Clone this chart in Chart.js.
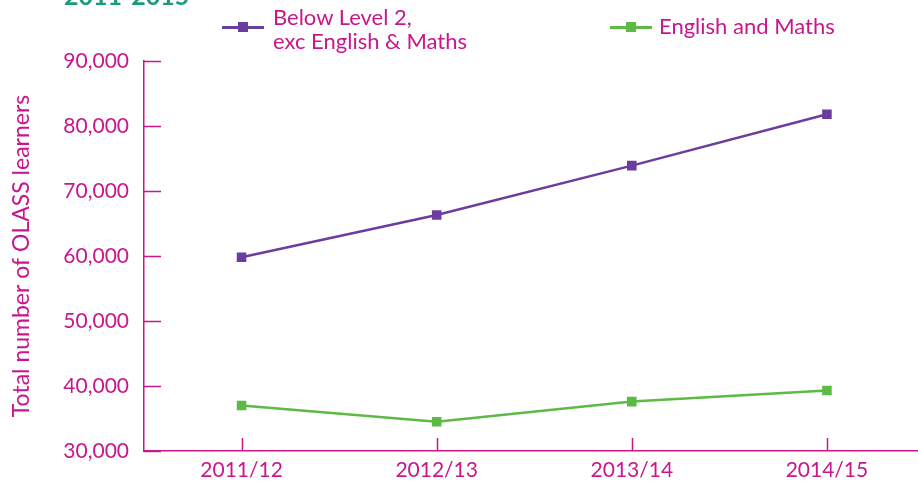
<!DOCTYPE html>
<html>
<head>
<meta charset="utf-8">
<title>OLASS learners 2011-2015</title>
<script src="https://cdn.jsdelivr.net/npm/chart.js@4.4.1/dist/chart.umd.min.js"></script>
<style>
  html, body { margin: 0; padding: 0; background: #fff; overflow: hidden; }
  #wrap { position: relative; width: 932px; height: 488px; }
  #title { position: absolute; left: 64px; top: -20px; font: bold 25px Lato, sans-serif; color: #1a9b7c; }
  .leg { position: absolute; font: 22px Lato, sans-serif; color: #c8178c; line-height: 24px; }
  .leg .mk { position: absolute; height: 3px; width: 42px; }
  .leg .mk i { position: absolute; left: 16px; top: -4px; width: 10px; height: 10px; }
</style>
</head>
<body>
<div id="wrap">
  <canvas id="chart" width="932" height="488"></canvas>
  <div id="title">2011-2015</div>
  <div class="leg" style="left:222px;top:5px;">
    <span class="mk" style="top:21px;background:#6b3d9e"><i style="background:#6b3d9e"></i></span>
    <div style="margin-left:51px">Below Level 2,<br>exc English &amp; Maths</div>
  </div>
  <div class="leg" style="left:610px;top:14px;">
    <span class="mk" style="top:12px;background:#5cba45"><i style="background:#5cba45"></i></span>
    <div style="margin-left:49px">English and Maths</div>
  </div>
</div>
<script>
  var years = ['2011/12', '2012/13', '2013/14', '2014/15'];
  var belowLevel2 = [59800, 66300, 73900, 81800];
  var englishMaths = [37000, 34500, 37600, 39300];
  var yTicks = [30000, 40000, 50000, 60000, 70000, 80000, 90000];

  var pink = '#c8178c';

  // short tick marks pointing into the plot, like the original
  var innerTicks = {
    id: 'innerTicks',
    afterDraw: function (chart) {
      var ctx = chart.ctx, area = chart.chartArea;
      var x = chart.scales.x, y = chart.scales.y;
      ctx.save();
      ctx.strokeStyle = pink;
      ctx.lineWidth = 1.5;
      ctx.beginPath();
      yTicks.forEach(function (v) {
        var py = Math.round(y.getPixelForValue(v)) + 0.5;
        ctx.moveTo(area.left, py);
        ctx.lineTo(area.left + 17, py);
      });
      years.forEach(function (c, i) {
        var px = Math.round(x.getPixelForValue(i)) + 0.5;
        ctx.moveTo(px, area.bottom);
        ctx.lineTo(px, area.bottom - 13);
      });
      ctx.stroke();
      ctx.restore();
    }
  };

  new Chart(document.getElementById('chart'), {
    type: 'line',
    data: {
      labels: years,
      datasets: [
        {
          label: 'Below Level 2, exc English & Maths',
          data: belowLevel2,
          borderColor: '#6b3d9e',
          backgroundColor: '#6b3d9e',
          borderWidth: 2.5,
          pointStyle: 'rect',
          pointRadius: 5,
          tension: 0
        },
        {
          label: 'English and Maths',
          data: englishMaths,
          borderColor: '#5cba45',
          backgroundColor: '#5cba45',
          borderWidth: 2.5,
          pointStyle: 'rect',
          pointRadius: 5,
          tension: 0
        }
      ]
    },
    options: {
      responsive: false,
      animation: false,
      layout: { padding: { top: 61, right: 6, left: 0, bottom: 0 } },
      plugins: { legend: { display: false }, tooltip: { enabled: false } },
      scales: {
        x: {
          offset: true,
          grid: { display: false, drawTicks: false },
          border: { color: pink, width: 1.5 },
          ticks: { color: pink, padding: 7, font: { family: 'Lato', size: 21 } },
          afterFit: function (s) { s.height = 37; }
        },
        y: {
          min: 30000,
          max: 90000,
          grid: { display: false, drawTicks: false },
          border: { color: pink, width: 1.5 },
          afterBuildTicks: function (s) { s.ticks = yTicks.map(function (v) { return { value: v }; }); },
          ticks: {
            color: pink,
            padding: 15,
            font: { family: 'Lato', size: 21 },
            callback: function (v) { return v.toLocaleString('en-GB'); }
          },
          title: {
            display: true,
            text: 'Total number of OLASS learners',
            color: pink,
            padding: { top: 8, bottom: 0 },
            font: { family: 'Lato', size: 23 }
          },
          afterFit: function (s) { s.width = 144; }
        }
      }
    },
    plugins: [innerTicks]
  });
</script>
</body>
</html>
